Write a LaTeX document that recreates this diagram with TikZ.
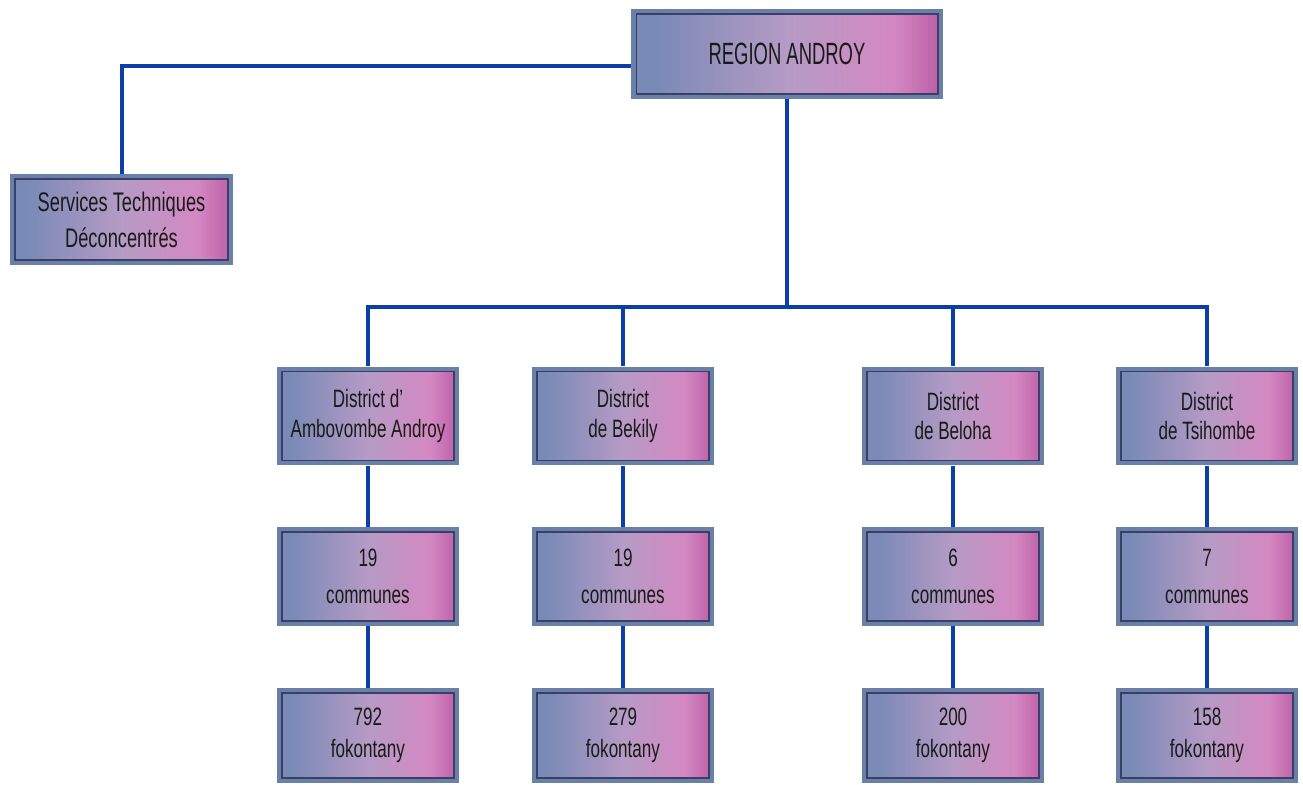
\documentclass[tikz,border=0pt]{standalone}
\usepackage{fontspec}
\setmainfont{Liberation Sans}[FakeStretch=0.68]
\newfontfamily\narrowfont{Liberation Sans}[FakeStretch=0.6]
\usetikzlibrary{positioning,calc}
\definecolor{framec}{HTML}{6B80A8}
\definecolor{shadeblue}{HTML}{7A8AB6}
\definecolor{shademid}{HTML}{B59BC5}
\definecolor{shadepink}{HTML}{D488C2}
\definecolor{shademag}{HTML}{BA5CA6}
\definecolor{inkline}{HTML}{3A3F66}
\definecolor{linkblue}{HTML}{0B3EA6}
\definecolor{textc}{HTML}{1A1A1A}
\pgfdeclarehorizontalshading{orgshade}{100bp}{color(0bp)=(shadeblue); color(29bp)=(shadeblue); color(50bp)=(shademid); color(67bp)=(shadepink); color(75bp)=(shademag); color(100bp)=(shademag)}
\tikzset{
  orgbox/.style={fill=framec, inner sep=0pt, align=center, text=textc,
    minimum width=3.64cm, minimum height=1.98cm,
    font=\fontsize{14.3}{17}\selectfont,
    path picture={\shade[shading=orgshade, draw=inkline, line width=0.6pt]
      ([shift={(0.1cm,-0.1cm)}]path picture bounding box.north west) rectangle
      ([shift={(-0.1cm,0.1cm)}]path picture bounding box.south east);}},
  topbox/.style={orgbox, minimum width=6.24cm, minimum height=1.8cm,
    font=\narrowfont\fontsize{17.5}{20}\selectfont},
  servbox/.style={orgbox, minimum width=4.46cm, minimum height=1.82cm,
    font=\fontsize{15.3}{20.5}\selectfont},
  commbox/.style={orgbox, font=\fontsize{14.3}{21}\selectfont},
  fokobox/.style={orgbox, minimum height=1.9cm, font=\fontsize{14.3}{18}\selectfont},
  link/.style={draw=linkblue, line width=0.08cm},
}
\begin{document}
\begin{tikzpicture}[x=0.02cm,y=-0.02cm]
  \useasboundingbox (0,0) rectangle (1303,785);
  % top level
  \node[topbox] (region) at (787,54) {REGION ANDROY};
  \node[servbox] (serv) at (121.5,219.5) {Services Techniques\\Déconcentrés};
  \coordinate (bus) at (787,307);
  % districts, communes, fokontany
  \node[orgbox] (d1) at (368,416) {District d’\\Ambovombe Androy};
  \node[orgbox] (d2) at (623,416) {District\\de Bekily};
  \node[orgbox] (d3) at (953,416) {District\\de Beloha};
  \node[orgbox] (d4) at (1207,416) {District\\de Tsihombe};
  \node[commbox] (c1) at (368,576.5) {19\\communes};
  \node[commbox] (c2) at (623,576.5) {19\\communes};
  \node[commbox] (c3) at (953,576.5) {6\\communes};
  \node[commbox] (c4) at (1207,576.5) {7\\communes};
  \node[fokobox] (f1) at (368,735.5) {792\\fokontany};
  \node[fokobox] (f2) at (623,735.5) {279\\fokontany};
  \node[fokobox] (f3) at (953,735.5) {200\\fokontany};
  \node[fokobox] (f4) at (1207,735.5) {158\\fokontany};
  % connectors
  \draw[link] ([yshift=-0.24cm]region.west) -| (serv.north);
  \draw[link] (region.south) -- (bus);
  \foreach \k in {1,...,4} {
    \draw[link] (bus) -| (d\k.north);
    \draw[link] (d\k.south) -- (c\k.north);
    \draw[link] (c\k.south) -- (f\k.north);
  }
\end{tikzpicture}
\end{document}
